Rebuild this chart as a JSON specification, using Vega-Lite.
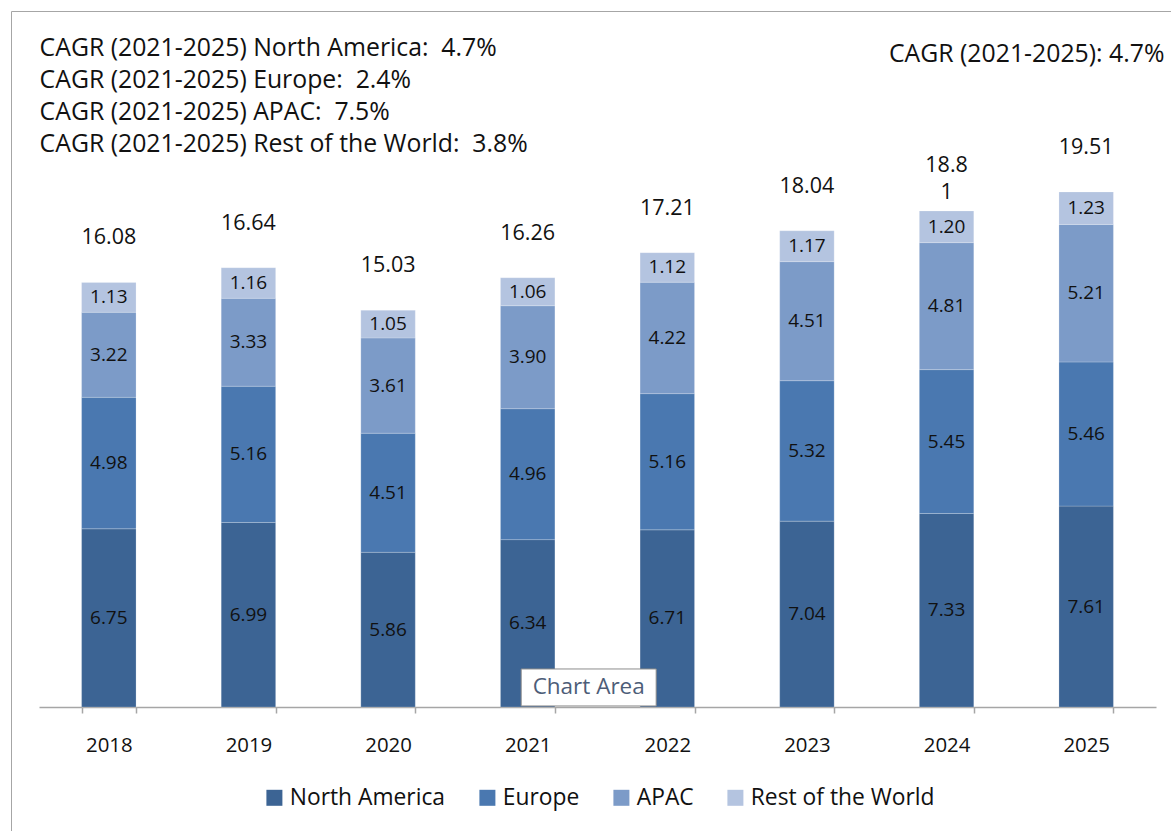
{
  "$schema": "https://vega.github.io/schema/vega-lite/v6.json",
  "width": 1160,
  "height": 820,
  "autosize": {"type": "none"},
  "padding": {"left": 11, "top": 11, "right": 0, "bottom": 0},
  "background": "white",
  "config": {
    "view": {"stroke": "#a6a6a6", "strokeWidth": 1},
    "font": "Open Sans",
    "text": {"font": "Open Sans"}
  },
  "datasets": {
    "segments": [
      {"year": "2018", "region": "North America", "stackOrder": 1, "value": 6.75},
      {"year": "2018", "region": "Europe", "stackOrder": 2, "value": 4.98},
      {"year": "2018", "region": "APAC", "stackOrder": 3, "value": 3.22},
      {"year": "2018", "region": "Rest of the World", "stackOrder": 4, "value": 1.13},
      {"year": "2019", "region": "North America", "stackOrder": 1, "value": 6.99},
      {"year": "2019", "region": "Europe", "stackOrder": 2, "value": 5.16},
      {"year": "2019", "region": "APAC", "stackOrder": 3, "value": 3.33},
      {"year": "2019", "region": "Rest of the World", "stackOrder": 4, "value": 1.16},
      {"year": "2020", "region": "North America", "stackOrder": 1, "value": 5.86},
      {"year": "2020", "region": "Europe", "stackOrder": 2, "value": 4.51},
      {"year": "2020", "region": "APAC", "stackOrder": 3, "value": 3.61},
      {"year": "2020", "region": "Rest of the World", "stackOrder": 4, "value": 1.05},
      {"year": "2021", "region": "North America", "stackOrder": 1, "value": 6.34},
      {"year": "2021", "region": "Europe", "stackOrder": 2, "value": 4.96},
      {"year": "2021", "region": "APAC", "stackOrder": 3, "value": 3.90},
      {"year": "2021", "region": "Rest of the World", "stackOrder": 4, "value": 1.06},
      {"year": "2022", "region": "North America", "stackOrder": 1, "value": 6.71},
      {"year": "2022", "region": "Europe", "stackOrder": 2, "value": 5.16},
      {"year": "2022", "region": "APAC", "stackOrder": 3, "value": 4.22},
      {"year": "2022", "region": "Rest of the World", "stackOrder": 4, "value": 1.12},
      {"year": "2023", "region": "North America", "stackOrder": 1, "value": 7.04},
      {"year": "2023", "region": "Europe", "stackOrder": 2, "value": 5.32},
      {"year": "2023", "region": "APAC", "stackOrder": 3, "value": 4.51},
      {"year": "2023", "region": "Rest of the World", "stackOrder": 4, "value": 1.17},
      {"year": "2024", "region": "North America", "stackOrder": 1, "value": 7.33},
      {"year": "2024", "region": "Europe", "stackOrder": 2, "value": 5.45},
      {"year": "2024", "region": "APAC", "stackOrder": 3, "value": 4.81},
      {"year": "2024", "region": "Rest of the World", "stackOrder": 4, "value": 1.20},
      {"year": "2025", "region": "North America", "stackOrder": 1, "value": 7.61},
      {"year": "2025", "region": "Europe", "stackOrder": 2, "value": 5.46},
      {"year": "2025", "region": "APAC", "stackOrder": 3, "value": 5.21},
      {"year": "2025", "region": "Rest of the World", "stackOrder": 4, "value": 1.23}
    ],
    "totals": [
      {"year": "2018", "total": 16.08, "label": "16.08"},
      {"year": "2019", "total": 16.64, "label": "16.64"},
      {"year": "2020", "total": 15.03, "label": "15.03"},
      {"year": "2021", "total": 16.26, "label": "16.26"},
      {"year": "2022", "total": 17.21, "label": "17.21"},
      {"year": "2023", "total": 18.04, "label": "18.04"},
      {"year": "2024", "total": 18.81, "label": "18.8\n1"},
      {"year": "2025", "total": 19.51, "label": "19.51"}
    ],
    "cagrLeft": [
      {"text": "CAGR (2021-2025) North America:\u00a0 4.7%\nCAGR (2021-2025) Europe:\u00a0 2.4%\nCAGR (2021-2025) APAC:\u00a0 7.5%\nCAGR (2021-2025) Rest of the World:\u00a0 3.8%"}
    ],
    "cagrRight": [
      {"text": "CAGR (2021-2025): 4.7%"}
    ],
    "hover": [
      {"text": "Chart Area"}
    ]
  },
  "layer": [
    {
      "data": {"name": "segments"},
      "mark": {"type": "bar", "stroke": "#ffffff", "strokeWidth": 0.6, "strokeOpacity": 0.35},
      "encoding": {
        "x": {
          "field": "year",
          "type": "ordinal",
          "scale": {
            "domain": ["2018", "2019", "2020", "2021", "2022", "2023", "2024", "2025"],
            "range": [28, 1145],
            "paddingInner": 0.61,
            "paddingOuter": 0.305
          },
          "axis": {
            "title": null,
            "orient": "bottom",
            "offset": -124,
            "domainColor": "#a6a6a6",
            "domainWidth": 1.5,
            "tickColor": "#a6a6a6",
            "tickWidth": 1.5,
            "tickSize": 6,
            "tickBand": "extent",
            "labelFont": "Open Sans",
            "labelFontSize": 20.4,
            "labelColor": "#111111",
            "labelPadding": 22,
            "labelBaseline": "top",
            "labelAngle": 0,
            "grid": false
          }
        },
        "y": {
          "field": "value",
          "type": "quantitative",
          "stack": "zero",
          "scale": {"domain": [-4.697, 26.364], "nice": false, "zero": false},
          "axis": null
        },
        "order": {"field": "stackOrder", "type": "quantitative"},
        "color": {
          "field": "region",
          "type": "nominal",
          "sort": ["North America", "Europe", "APAC", "Rest of the World"],
          "scale": {
            "domain": ["North America", "Europe", "APAC", "Rest of the World"],
            "range": ["#3c6494", "#4a78b0", "#7c9bc8", "#b4c4e0"]
          },
          "legend": {
            "title": null,
            "orient": "none",
            "direction": "horizontal",
            "legendX": 252,
            "legendY": 775,
            "symbolType": "square",
            "symbolSize": 256,
            "symbolStrokeWidth": 0,
            "labelFont": "Open Sans",
            "labelFontSize": 22.8,
            "labelColor": "#111111",
            "labelOffset": 4,
            "labelLimit": 400,
            "columnPadding": 30
          }
        }
      }
    },
    {
      "data": {"name": "segments"},
      "mark": {"type": "text", "fontSize": 19, "baseline": "middle", "align": "center", "color": "#111111"},
      "encoding": {
        "x": {"field": "year", "type": "ordinal"},
        "y": {"field": "value", "type": "quantitative", "stack": "zero", "bandPosition": 0.5},
        "order": {"field": "stackOrder", "type": "quantitative"},
        "detail": {"field": "region", "type": "nominal"},
        "text": {"field": "value", "type": "quantitative", "format": ".2f"}
      }
    },
    {
      "data": {"name": "totals"},
      "mark": {"type": "text", "fontSize": 21.5, "baseline": "top", "align": "center", "dy": -55, "lineBreak": "\n", "lineHeight": 27, "color": "#111111"},
      "encoding": {
        "x": {"field": "year", "type": "ordinal"},
        "y": {"field": "total", "type": "quantitative"},
        "text": {"field": "label", "type": "nominal"}
      }
    },
    {
      "data": {"name": "cagrLeft"},
      "mark": {"type": "text", "fontSize": 24.8, "baseline": "top", "align": "left", "dx": -42, "lineBreak": "\n", "lineHeight": 32, "color": "#111111"},
      "encoding": {
        "x": {"datum": "2018", "type": "ordinal", "bandPosition": 0},
        "y": {"datum": 25.42, "type": "quantitative"},
        "text": {"field": "text", "type": "nominal"}
      }
    },
    {
      "data": {"name": "cagrRight"},
      "mark": {"type": "text", "fontSize": 24.8, "baseline": "top", "align": "right", "dx": 51, "color": "#111111"},
      "encoding": {
        "x": {"datum": "2025", "type": "ordinal", "bandPosition": 1},
        "y": {"datum": 25.2, "type": "quantitative"},
        "text": {"field": "text", "type": "nominal"}
      }
    },
    {
      "data": {"name": "hover"},
      "mark": {"type": "point", "shape": "M-1,-0.274H1V0.274H-1Z", "size": 18225, "filled": true, "fill": "#ffffff", "stroke": "#8c8c8c", "strokeWidth": 1, "opacity": 1},
      "encoding": {
        "x": {"datum": "2021", "type": "ordinal", "bandPosition": 1.62},
        "y": {"datum": 0.74, "type": "quantitative"}
      }
    },
    {
      "data": {"name": "hover"},
      "mark": {"type": "text", "fontSize": 22.5, "baseline": "middle", "align": "center", "color": "#4d5d78"},
      "encoding": {
        "x": {"datum": "2021", "type": "ordinal", "bandPosition": 1.62},
        "y": {"datum": 0.74, "type": "quantitative"},
        "text": {"field": "text", "type": "nominal"}
      }
    }
  ]
}
